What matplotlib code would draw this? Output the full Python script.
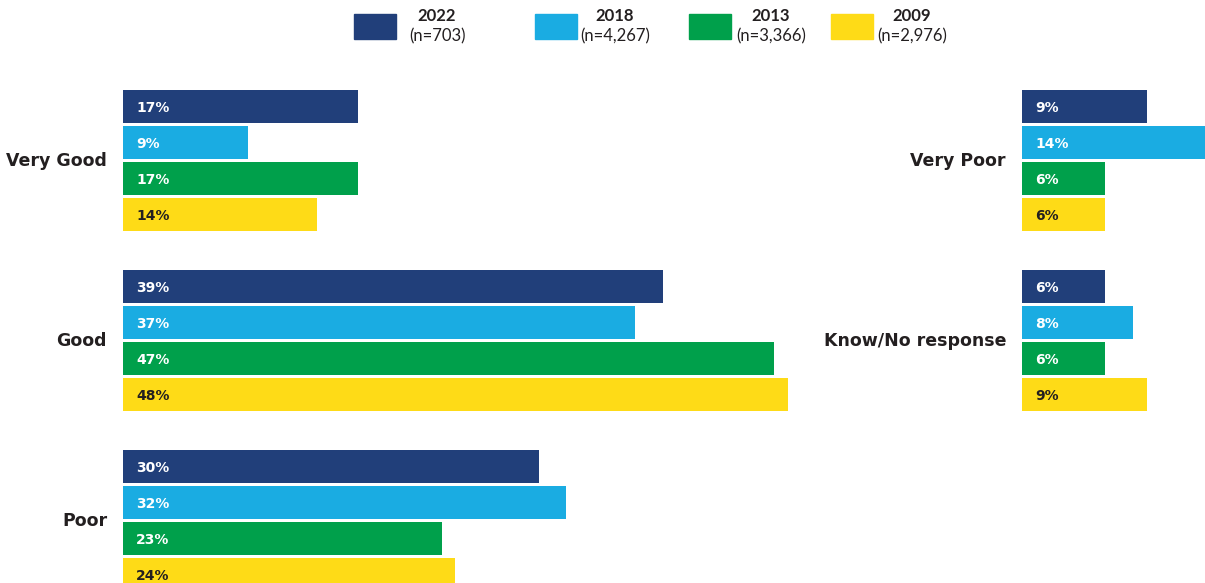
import matplotlib
matplotlib.use("Agg")
import matplotlib.pyplot as plt
from matplotlib.patches import Rectangle

plt.rcParams['font.family'] = ['Lato', 'DejaVu Sans']

years = ["2022", "2018", "2013", "2009"]
sample_sizes = ["(n=703)", "(n=4,267)", "(n=3,366)", "(n=2,976)"]
colors = ["#213f7a", "#1aace2", "#00a04b", "#fedb17"]
label_colors = ["white", "white", "white", "#231f20"]

left_categories = ["Very Good", "Good", "Poor"]
left_values = {
    "2022": [17, 39, 30],
    "2018": [9, 37, 32],
    "2013": [17, 47, 23],
    "2009": [14, 48, 24],
}
right_categories = ["Very Poor", "Know/No response"]
right_values = {
    "2022": [9, 6],
    "2018": [14, 8],
    "2013": [6, 6],
    "2009": [6, 9],
}

W, H = 1205, 583
fig = plt.figure(figsize=(W / 100, H / 100), dpi=100)

PX_PER_PCT = 13.85
PX_PER_UNIT = 36.0
CENTER0 = 160.5
GROUP_PITCH = 5.0
ylim = ((H - CENTER0) / PX_PER_UNIT, -CENTER0 / PX_PER_UNIT)
offsets = [-1.5, -0.5, 0.5, 1.5]
bar_h = 33 / PX_PER_UNIT
LABEL_FONT = ['DejaVu Sans']


def panel(x0, x1, cats, vals, label_x):
    ax = fig.add_axes([x0 / W, 0, (x1 - x0) / W, 1])
    ax.set_xlim(0, (x1 - x0) / PX_PER_PCT)
    ax.set_ylim(*ylim)
    ax.axis("off")
    for j, yr in enumerate(years):
        ys = [i * GROUP_PITCH + offsets[j] for i in range(len(cats))]
        ax.barh(ys, vals[yr], height=bar_h, color=colors[j], edgecolor="none")
        for y, v in zip(ys, vals[yr]):
            ax.text(13 / PX_PER_PCT, y + 0.03, f"{v}%", color=label_colors[j],
                    fontsize=10, fontweight="bold", va="center", ha="left",
                    family=LABEL_FONT)
    for i, c in enumerate(cats):
        fig.text(label_x / W, 1 - (CENTER0 + 1 + i * GROUP_PITCH * PX_PER_UNIT) / H, c,
                 ha="right", va="center", fontsize=12.5, fontweight="bold",
                 color="#231f20", family=LABEL_FONT)
    return ax


panel(123, 820, left_categories, left_values, 107)
panel(1022, 1205, right_categories, right_values, 1006)

# legend
sq_x = [354, 535, 689, 831]
txt_x = [437, 615, 771, 912]
for j in range(4):
    fig.patches.append(Rectangle((sq_x[j] / W, 1 - 39 / H), 42 / W, 25 / H,
                                 transform=fig.transFigure, color=colors[j]))
    fig.text(txt_x[j] / W, 1 - 16 / H, years[j], ha="center", va="center",
             fontsize=12, fontweight="bold", color="#231f20")
    fig.text(txt_x[j] / W, 1 - 36 / H, sample_sizes[j], ha="center", va="center",
             fontsize=12, color="#231f20")

fig.savefig("out.png", dpi=100, facecolor="white")
